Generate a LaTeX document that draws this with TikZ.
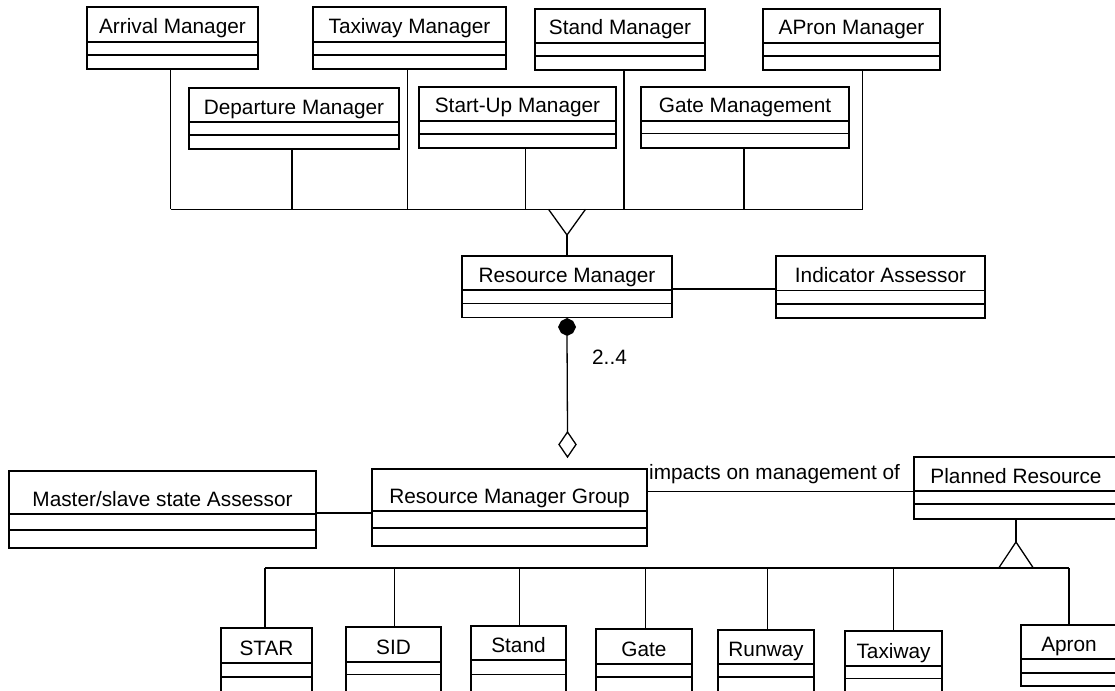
\documentclass[tikz,border=0pt]{standalone}
\usepackage{fontspec}
\setmainfont{Liberation Sans}
% A UML class: name, left, top, right, bottom, first and second compartment line, title
\newcommand{\umlclass}[8]{%
  \node[classbox, minimum width={#4-#2}, minimum height={#5-#3}, anchor=north west] (#1) at (#2,#3) {};
  \draw (#2,#6) -- (#4,#6) (#2,#7) -- (#4,#7);
  \node[classname] (#1-t) at ({(#2+#4)/2},{#6-8}) {#8};
}
\begin{document}
\begin{tikzpicture}[x=1pt,y=-1pt,
  line width=1.3pt,
  classbox/.style={draw, rectangle, inner sep=0pt, outer sep=0pt},
  classname/.style={anchor=base, inner sep=0pt, font=\fontsize{20.8}{24}\selectfont},
  assoclabel/.style={anchor=base west, inner sep=0pt, font=\fontsize{20.8}{24}\selectfont}]
\path[use as bounding box, clip] (0,0) rectangle (1115,690);

% managers
\umlclass{arr}{87}{7}{258}{69}{42}{55}{Arrival Manager}
\umlclass{dep}{189}{88}{399}{149}{122}{135}{Departure Manager}
\umlclass{taxm}{313}{7}{506}{69}{42}{55}{Taxiway Manager}
\umlclass{stm}{419}{87}{616}{148}{121}{134}{Start-Up Manager}
\umlclass{stdm}{535}{9}{705}{70}{43}{56}{Stand Manager}
\umlclass{gtm}{641}{87}{849}{148}{121}{133.5}{Gate Management}
\umlclass{apm}{763}{9}{940}{70}{43}{56}{APron Manager}

\umlclass{rm}{462}{256}{672}{317.3}{290}{303.3}{Resource Manager}
\umlclass{ind}{776}{256}{985}{318}{290.7}{304}{Indicator Assessor}

\umlclass{ms}{9}{471}{316}{548}{514}{530}{Master/slave state Assessor}
\umlclass{rmg}{372}{469}{647}{546}{511}{528}{Resource Manager Group}
\umlclass{pr}{914}{457}{1118}{519}{491}{504}{Planned Resource}

% planned resources
\umlclass{star}{221}{628}{312}{692}{663}{677}{STAR}
\umlclass{sid}{346}{627}{441}{692}{662}{674.5}{SID}
\umlclass{std}{471}{626}{566}{692}{660}{674.5}{Stand}
\umlclass{gate}{596}{629}{692}{692}{664}{677}{Gate}
\umlclass{rwy}{718}{630}{814}{692}{664}{677}{Runway}
\umlclass{twy}{845}{631}{942}{692}{666}{678.5}{Taxiway}
\umlclass{apr}{1021}{625}{1117}{686}{659}{673}{Apron}

% manager hierarchy
\coordinate (topbus) at (0,209.3);
\coordinate (arr-c) at ([xshift=-2pt]arr.south);
\coordinate (dep-c) at ([xshift=-2pt]dep.south);
\coordinate (taxm-c) at ([xshift=-2pt]taxm.south);
\coordinate (stm-c) at ([xshift=8pt]stm.south);
\coordinate (stdm-c) at ([xshift=4pt]stdm.south);
\coordinate (gtm-c) at ([xshift=-1pt]gtm.south);
\coordinate (apm-c) at ([xshift=11pt]apm.south);
\foreach \c in {arr-c,dep-c,taxm-c,stm-c,stdm-c,gtm-c,apm-c}
  \draw (\c) -- (\c |- topbus);
\draw (arr-c |- topbus) -- (apm-c |- topbus);
\coordinate (gen-apex) at ([yshift=21pt]rm.north);
\draw ([xshift=-18.5pt,yshift=25.7pt]gen-apex) -- (gen-apex) -- ([xshift=18.5pt,yshift=25.7pt]gen-apex);
\draw (gen-apex) -- (rm.north);

% associations
\coordinate (ind-y) at (0,289);
\draw (rm.east |- ind-y) -- (ind.west |- ind-y);
\coordinate (ms-y) at (0,513);
\draw (ms.east |- ms-y) -- (rmg.west |- ms-y);
\coordinate (pr-y) at (0,491.5);
\draw (rmg.east |- pr-y) -- (pr.west |- pr-y);
\node[assoclabel] (impacts) at (648.5,479) {impacts on management of};

% composition
\coordinate (comp) at (567,327);
\fill (comp) ++(0,-9) -- ++(6,3) -- ++(3,6) -- ++(-3,6) -- ++(-6,3) -- ++(-6,-3) -- ++(-3,-6) -- ++(3,-6) -- cycle;
\coordinate (agg) at (567.5,444.5);
\draw (agg) ++(0,-12.5) -- ++(8.5,12.5) -- ++(-8.5,12.5) -- ++(-8.5,-12.5) -- cycle;
\draw ([yshift=-9pt]comp) -- ([yshift=12.5pt]agg);
\node[assoclabel] (mult) at (591.5,364) {2..4};

% resource hierarchy
\coordinate (botbus) at (0,568);
\coordinate (pr-apex) at ([yshift=-23pt]pr.south);
\draw (pr.south) -- (pr-apex);
\draw ([xshift=-17.5pt,yshift=-26.3pt]pr-apex) -- (pr-apex) -- ([xshift=17.5pt,yshift=-26.3pt]pr-apex);
\coordinate (star-c) at ([xshift=-1.5pt]star.north);
\coordinate (sid-c) at ([xshift=1pt]sid.north);
\coordinate (std-c) at ([xshift=1pt]std.north);
\coordinate (gate-c) at ([xshift=1.5pt]gate.north);
\coordinate (rwy-c) at ([xshift=1.3pt]rwy.north);
\coordinate (twy-c) at (twy.north);
\coordinate (apr-c) at (apr.north);
\foreach \c in {star-c,sid-c,std-c,gate-c,rwy-c,twy-c,apr-c}
  \draw (\c) -- (\c |- botbus);
\draw (star-c |- botbus) -- (apr-c |- botbus);
\end{tikzpicture}
\end{document}
